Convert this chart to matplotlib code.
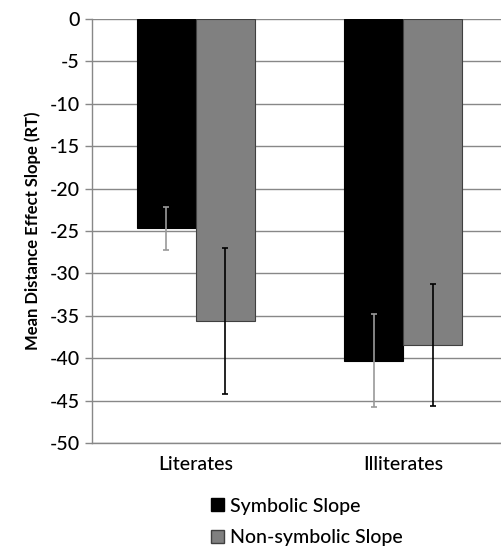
import matplotlib
matplotlib.use("Agg")
import matplotlib.pyplot as plt
import numpy as np
from matplotlib.patches import Patch

categories = ["Literates", "Illiterates"]
series_names = ["Symbolic Slope", "Non-symbolic Slope"]
symbolic = [-24.7, -40.3]
symbolic_err = [2.5, 5.5]
nonsymbolic = [-35.6, -38.4]
nonsymbolic_err = [8.6, 7.2]
yticks = list(range(0, -55, -5))

plt.rcParams['font.family'] = ['Lato', 'DejaVu Sans']

fig = plt.figure(figsize=(5.02, 5.49), dpi=100)
ax = fig.add_axes([92/502, 1 - 443/549, (507-92)/502, (443-19)/549])

x = np.arange(len(categories))
w = 0.285
ax.bar(x - w/2, symbolic, w, color='black', edgecolor='black', linewidth=0.8, zorder=3)
ax.bar(x + w/2, nonsymbolic, w, color='#808080', edgecolor='#404040', linewidth=0.8, zorder=3)
ax.errorbar(x - w/2, symbolic, yerr=symbolic_err, fmt='none', ecolor='#9a9a9a',
            elinewidth=1.2, capsize=2, capthick=1.2, zorder=4)
ax.errorbar(x + w/2, nonsymbolic, yerr=nonsymbolic_err, fmt='none', ecolor='black',
            elinewidth=1.2, capsize=2, capthick=1.2, zorder=4)

ax.set_xlim(-0.5, 1.5)
ax.set_ylim(-50, 0)
ax.set_yticks(yticks)
ax.set_yticklabels([str(t) for t in yticks], fontsize=14, fontweight='medium')
ax.set_xticks(x)
ax.set_xticklabels(categories, fontsize=14, fontweight='medium')
ax.tick_params(axis='x', length=0, pad=9)
ax.tick_params(axis='y', length=5, width=1, color='#888888', pad=4)
ax.yaxis.grid(True, color='#888888', linewidth=1, zorder=0)
ax.set_axisbelow(True)
for s in ['top', 'right']:
    ax.spines[s].set_visible(False)
ax.spines['left'].set_color('#888888')
ax.spines['bottom'].set_color('#888888')
ax.spines['left'].set_linewidth(1)
ax.spines['bottom'].set_linewidth(1)
ax.set_ylabel("Mean Distance Effect Slope (RT)", fontsize=12, fontweight='bold', labelpad=6)

handles = [Patch(facecolor='black', edgecolor='black'),
           Patch(facecolor='#808080', edgecolor='#404040')]
fig.legend(handles, series_names, loc='center', bbox_to_anchor=(307/502, 1 - 522/549),
           frameon=False, fontsize=14, handlelength=0.65, handleheight=0.65,
           handletextpad=0.35, labelspacing=0.75,
           prop={'weight': 'medium', 'size': 14})

fig.savefig("out.png", dpi=100)
